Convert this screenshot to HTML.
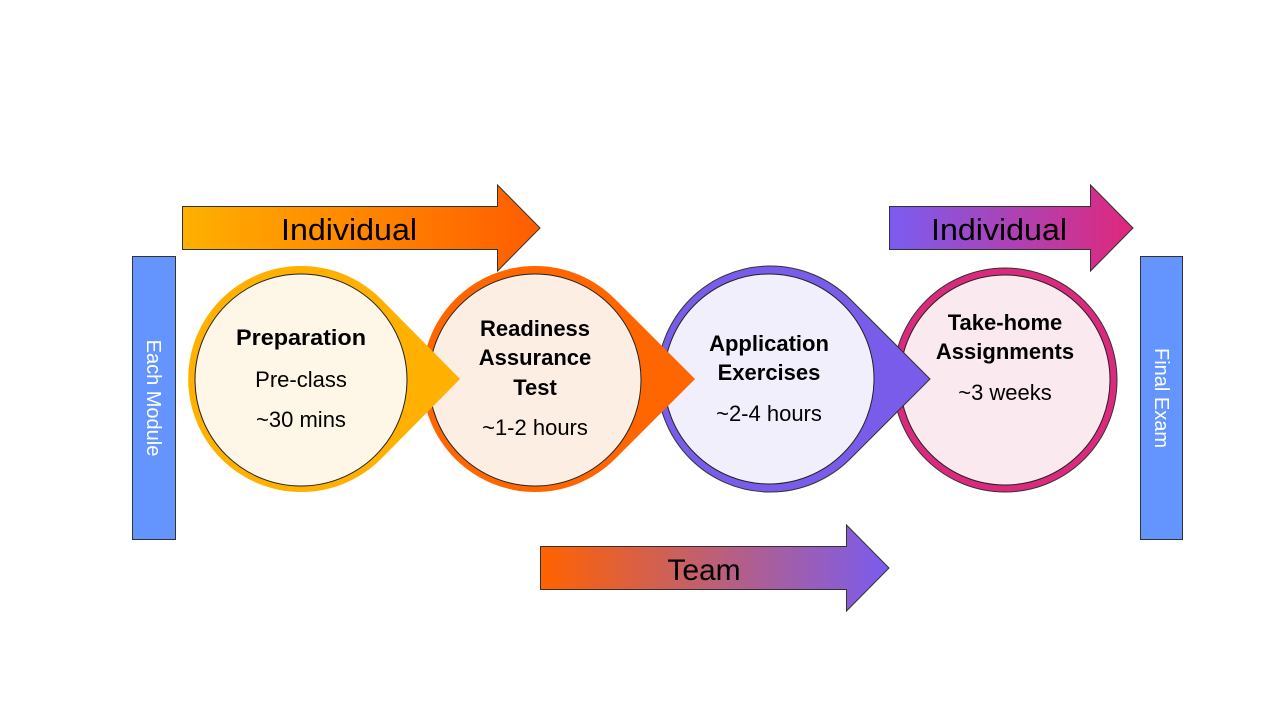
<!DOCTYPE html>
<html><head><style>
html,body{margin:0;padding:0;background:#fff;}
svg{display:block;}
text{font-family:"Liberation Sans",sans-serif;}
</style></head><body>
<svg width="1280" height="720" viewBox="0 0 1280 720" xmlns="http://www.w3.org/2000/svg">
<defs>
<linearGradient id="g1" x1="0" x2="1"><stop offset="0" stop-color="#FFB000"/><stop offset="1" stop-color="#FF5C00"/></linearGradient>
<linearGradient id="g2" x1="0" x2="1"><stop offset="0" stop-color="#7A5CF0"/><stop offset="1" stop-color="#E0287A"/></linearGradient>
<linearGradient id="g3" x1="0" x2="1"><stop offset="0" stop-color="#FF6200"/><stop offset="1" stop-color="#7A5CF0"/></linearGradient>
</defs>
<rect x="132.5" y="256.5" width="43" height="283" fill="#6495FF" stroke="#333" stroke-width="1"/>
<rect x="1140.5" y="256.5" width="42" height="283" fill="#6495FF" stroke="#333" stroke-width="1"/>
<text transform="translate(147,398) rotate(90)" text-anchor="middle" font-size="20" fill="#fff">Each Module</text>
<text transform="translate(1155,398) rotate(90)" text-anchor="middle" font-size="20" fill="#fff">Final Exam</text>
<path d="M182.5,206.5 H497.5 V185 L540,228 L497.5,271 V249.5 H182.5 Z" fill="url(#g1)" stroke="#333" stroke-width="1"/>
<text x="349" y="240" text-anchor="middle" font-size="31" fill="#000" textLength="136" lengthAdjust="spacingAndGlyphs">Individual</text>
<path d="M889.5,206.5 H1090.5 V185 L1133,228 L1090.5,271 V249.5 H889.5 Z" fill="url(#g2)" stroke="#333" stroke-width="1"/>
<text x="999" y="240" text-anchor="middle" font-size="31" fill="#000" textLength="136" lengthAdjust="spacingAndGlyphs">Individual</text>
<path d="M540.5,546.5 H846.5 V525 L889,568 L846.5,611 V589.5 H540.5 Z" fill="url(#g3)" stroke="#333" stroke-width="1"/>
<text x="704" y="580" text-anchor="middle" font-size="30" fill="#000">Team</text>
<circle cx="1005" cy="380" r="112" fill="#DB2A7E" stroke="#333" stroke-width="1"/>
<circle cx="1005" cy="380" r="105" fill="#FBE9F0" stroke="#222" stroke-width="1"/>
<path d="M930,379 L849,298 A113,113 0 1 0 849,460 Z" fill="#7A5CEB" stroke="#333" stroke-width="1"/>
<circle cx="769" cy="379" r="105" fill="#F1EFFC" stroke="#222" stroke-width="1"/>
<path d="M695,379 L615,299 A113,113 0 1 0 615,459 Z" fill="#FF6600"/>
<circle cx="535" cy="380" r="106" fill="#FDEEE4" stroke="#222" stroke-width="1"/>
<path d="M460,379 L381,299 A113,113 0 1 0 381,459 Z" fill="#FFB000"/>
<circle cx="301" cy="380" r="106" fill="#FEF6E6" stroke="#222" stroke-width="1"/>
<g font-size="22" text-anchor="middle" fill="#000">
<text x="301" y="345" font-weight="bold" textLength="130" lengthAdjust="spacingAndGlyphs">Preparation</text>
<text x="301" y="387">Pre-class</text>
<text x="301" y="427">~30 mins</text>
<text x="535" y="336" font-weight="bold">Readiness</text>
<text x="535" y="365" font-weight="bold">Assurance</text>
<text x="535" y="395" font-weight="bold">Test</text>
<text x="535" y="435">~1-2 hours</text>
<text x="769" y="351" font-weight="bold">Application</text>
<text x="769" y="380" font-weight="bold">Exercises</text>
<text x="769" y="421">~2-4 hours</text>
<text x="1005" y="330" font-weight="bold">Take-home</text>
<text x="1005" y="359" font-weight="bold">Assignments</text>
<text x="1005" y="400">~3 weeks</text>
</g>
</svg>
</body></html>
